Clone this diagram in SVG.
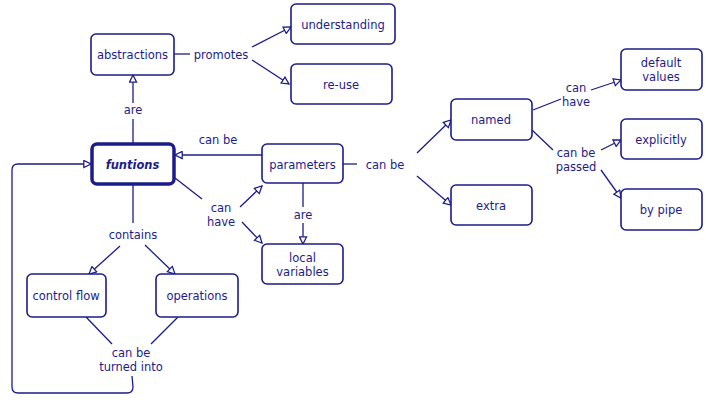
<svg xmlns="http://www.w3.org/2000/svg" width="706" height="407" viewBox="0 0 706 407">
<style>
.box{fill:#fff;stroke:#1c1c8a;stroke-width:1.6}
.thick{fill:#fff;stroke:#1c1c8a;stroke-width:3.5}
.t{font-family:"DejaVu Sans",Verdana,sans-serif;font-size:11.5px;fill:#1c1c8a;text-anchor:middle}
.b{font-weight:bold;font-style:italic}
.c{fill:none;stroke:#1c1c8a;stroke-width:1.3}
</style>
<defs>
<marker id="a" viewBox="0 0 10 10" refX="9" refY="5" markerWidth="9" markerHeight="9" orient="auto" markerUnits="userSpaceOnUse">
<path d="M1,1 L9,5 L1,9 Z" fill="#fff" stroke="#1c1c8a" stroke-width="1.4"/>
</marker>
</defs>
<rect width="706" height="407" fill="#fff"/>
<g id="connectors">
<path class="c" d="M174,54 L190,54"/>
<path class="c" d="M252,47 L291,27" marker-end="url(#a)"/>
<path class="c" d="M252,60 L289,84" marker-end="url(#a)"/>
<path class="c" d="M133,143 L133,119"/>
<path class="c" d="M133,103 L133,75" marker-end="url(#a)"/>
<path class="c" d="M262,155 L175,155" marker-end="url(#a)"/>
<path class="c" d="M175,178 L202,199"/>
<path class="c" d="M240,207 L262,186" marker-end="url(#a)"/>
<path class="c" d="M242,222 L262,243" marker-end="url(#a)"/>
<path class="c" d="M303,183 L303,207"/>
<path class="c" d="M303,223 L303,244" marker-end="url(#a)"/>
<path class="c" d="M343,164 L357,164"/>
<path class="c" d="M417,153 L451,120" marker-end="url(#a)"/>
<path class="c" d="M417,176 L451,205" marker-end="url(#a)"/>
<path class="c" d="M533,110 L561,99"/>
<path class="c" d="M591,90 L621,80" marker-end="url(#a)"/>
<path class="c" d="M532,130 L553,150"/>
<path class="c" d="M601,150 L621,140" marker-end="url(#a)"/>
<path class="c" d="M601,170 L621,198" marker-end="url(#a)"/>
<path class="c" d="M133,184 L133,223"/>
<path class="c" d="M120,246 L89,274" marker-end="url(#a)"/>
<path class="c" d="M145,245 L175,274" marker-end="url(#a)"/>
<path class="c" d="M86,317 L112,344"/>
<path class="c" d="M178,317 L151,344"/>
<path class="c" d="M132,376 L133,387 Q133,393 127,393 L18,393 Q12,393 12,387 L12,170 Q12,164 18,164 L91,164" marker-end="url(#a)"/>
</g>
<g id="abstractions"><rect class="box" x="91" y="34" width="83" height="41" rx="5"/><text class="t" x="132.5" y="58.5">abstractions</text></g>
<g id="understanding"><rect class="box" x="291" y="4" width="104" height="40" rx="5"/><text class="t" x="343" y="28.5">understanding</text></g>
<g id="re-use"><rect class="box" x="291" y="64" width="101" height="40" rx="5"/><text class="t" x="341" y="88.5">re-use</text></g>
<g id="funtions"><rect class="thick" x="92" y="144" width="82" height="40" rx="5"/><text class="t b" x="132.5" y="168.5">funtions</text></g>
<g id="parameters"><rect class="box" x="262" y="144" width="81" height="39" rx="5"/><text class="t" x="302.5" y="168.5">parameters</text></g>
<g id="local-variables"><rect class="box" x="262" y="244" width="81" height="40" rx="5"/><text class="t" x="302.5" y="261.5">local</text><text class="t" x="302.5" y="275.5">variables</text></g>
<g id="control-flow"><rect class="box" x="27" y="274" width="79" height="43" rx="5"/><text class="t" x="66" y="300">control flow</text></g>
<g id="operations"><rect class="box" x="156" y="274" width="82" height="43" rx="5"/><text class="t" x="197" y="300">operations</text></g>
<g id="named"><rect class="box" x="451" y="99" width="81" height="41" rx="5"/><text class="t" x="491" y="124">named</text></g>
<g id="extra"><rect class="box" x="451" y="185" width="81" height="40" rx="5"/><text class="t" x="491" y="209.5">extra</text></g>
<g id="default-values"><rect class="box" x="621" y="49" width="81" height="41" rx="5"/><text class="t" x="661" y="66.5">default</text><text class="t" x="661" y="80.5">values</text></g>
<g id="explicitly"><rect class="box" x="621" y="119" width="81" height="40" rx="5"/><text class="t" x="661" y="143.5">explicitly</text></g>
<g id="by-pipe"><rect class="box" x="621" y="189" width="81" height="41" rx="5"/><text class="t" x="661" y="214">by pipe</text></g>
<g id="labels">
<text class="t" x="221" y="58.5">promotes</text>
<text class="t" x="133" y="114">are</text>
<text class="t" x="218" y="144">can be</text>
<text class="t" x="385" y="168.5">can be</text>
<text class="t" x="221" y="212">can</text>
<text class="t" x="221" y="226">have</text>
<text class="t" x="303" y="219">are</text>
<text class="t" x="576" y="92">can</text>
<text class="t" x="576" y="106">have</text>
<text class="t" x="576" y="157">can be</text>
<text class="t" x="576" y="171">passed</text>
<text class="t" x="133" y="239">contains</text>
<text class="t" x="131" y="357">can be</text>
<text class="t" x="131" y="371">turned into</text>
</g>
</svg>
